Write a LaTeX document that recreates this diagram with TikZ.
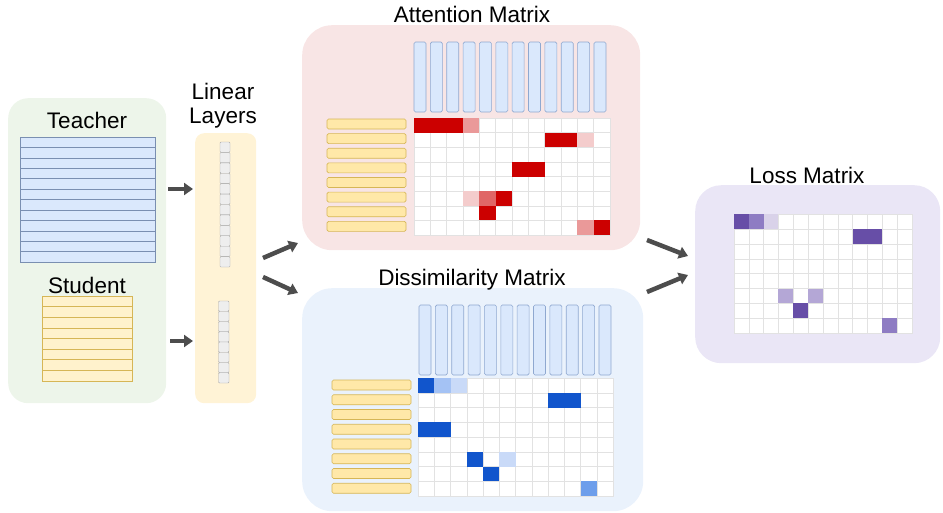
\documentclass[tikz,border=0pt]{standalone}
\usepackage{fontspec}
\setmainfont{Liberation Sans}
\usetikzlibrary{positioning,arrows.meta}

\definecolor{greenbg}{HTML}{EDF5EA}
\definecolor{linbg}{HTML}{FFF3D6}
\definecolor{pinkbg}{HTML}{F8E5E5}
\definecolor{bluebg}{HTML}{EAF2FC}
\definecolor{lavbg}{HTML}{EAE6F6}
\definecolor{tfill}{HTML}{DAE8FC}
\definecolor{tdraw}{HTML}{8FA8D0}
\definecolor{sfill}{HTML}{FFF2CC}
\definecolor{smfill}{HTML}{FFE8A8}
\definecolor{sdraw}{HTML}{D6B656}
\definecolor{lincell}{HTML}{EEEEEE}
\definecolor{lindraw}{HTML}{AAAAAA}
\definecolor{gridgrey}{HTML}{E2E2E2}
\definecolor{arrowgrey}{HTML}{4D4D4D}
\definecolor{redA}{HTML}{CC0000}
\definecolor{redB}{HTML}{E06666}
\definecolor{redC}{HTML}{EA9999}
\definecolor{redD}{HTML}{F4CCCC}
\definecolor{blueA}{HTML}{1155CC}
\definecolor{blueB}{HTML}{6D9EEB}
\definecolor{blueC}{HTML}{A4C2F4}
\definecolor{blueD}{HTML}{C9DAF8}
\definecolor{purA}{HTML}{674EA7}
\definecolor{purB}{HTML}{8E7CC3}
\definecolor{purC}{HTML}{B4A7D6}
\definecolor{purD}{HTML}{D9D2E9}

\begin{document}
\begin{tikzpicture}[x=1pt, y=-1pt,
    panel/.style={draw=none, inner sep=0pt, anchor=north west},
    title/.style={font=\fontsize{22.5}{24}\selectfont, inner sep=0pt},
    tvec/.style={draw=tdraw, fill=tfill, line width=0.6pt, rounded corners=1.5pt},
    svec/.style={draw=sdraw, fill=smfill, line width=0.6pt, rounded corners=1.5pt},
    trow/.style={draw=tdraw!85!black, fill=tfill, line width=0.5pt},
    srow/.style={draw=sdraw, fill=sfill, line width=0.5pt},
    lcell/.style={draw=lindraw, fill=lincell, line width=0.4pt, rounded corners=1pt},
    cell/.style={draw=gridgrey, line width=0.4pt},
    flow/.style={-{Triangle[length=9pt, width=12pt]}, line width=4.5pt, draw=arrowgrey}]

  \useasboundingbox (0,0) rectangle (943,512);

  % panels
  \node[panel, fill=greenbg, rounded corners=20pt, minimum width=158pt, minimum height=305pt] (models) at (8,98) {};
  \node[panel, fill=linbg, rounded corners=9pt, minimum width=61pt, minimum height=270pt] (linear) at (195,133) {};
  \node[panel, fill=pinkbg, rounded corners=30pt, minimum width=338pt, minimum height=225pt] (attn) at (302,25) {};
  \node[panel, fill=bluebg, rounded corners=30pt, minimum width=341pt, minimum height=223pt] (dissim) at (302,288) {};
  \node[panel, fill=lavbg, rounded corners=26pt, minimum width=245pt, minimum height=178pt] (loss) at (695,185) {};

  % titles
  \node[title, anchor=base] (teacher) at (87,128) {Teacher};
  \node[title, anchor=base] (student) at (87,293) {Student};
  \node[title, align=center] (lintitle) at (223,106) {Linear\\Layers};
  \node[title, anchor=base] (attntitle) at (472,22) {Attention Matrix};
  \node[title, anchor=base] (dissimtitle) at (472,285) {Dissimilarity Matrix};
  \node[title, anchor=base] (losstitle) at (807,183) {Loss Matrix};

  % teacher and student features
  \foreach \i in {0,...,11}
    \draw[trow] (20,137+\i*10.42) rectangle ++(135,10.42);
  \foreach \i in {0,...,7}
    \draw[srow] (42,296+\i*10.62) rectangle ++(90,10.62);

  % linear layers
  \foreach \i in {0,...,11}
    \draw[lcell] (220,142+\i*10.42) rectangle ++(10,10.42);
  \foreach \i in {0,...,7}
    \draw[lcell] (218.5,301+\i*10.25) rectangle ++(10.5,10.25);

  % attention matrix
  \foreach \i in {0,...,11}
    \draw[tvec] (414+\i*16.36,42) rectangle ++(12,70);
  \foreach \r in {0,...,7} {
    \draw[svec] (327,119+\r*14.63) rectangle ++(79,10);
    \foreach \c in {0,...,11}
      \draw[cell, fill=white] (414+\c*16.33,118+\r*14.63) rectangle ++(16.33,14.63);
  }
  \foreach \r/\c/\col in {0/0/redA,0/1/redA,0/2/redA,0/3/redC,1/8/redA,1/9/redA,1/10/redD,
      3/6/redA,3/7/redA,5/3/redD,5/4/redB,5/5/redA,6/4/redA,7/10/redC,7/11/redA}
    \fill[\col] (414+\c*16.33,118+\r*14.63) rectangle ++(16.33,14.63);

  % dissimilarity matrix
  \foreach \i in {0,...,11}
    \draw[tvec] (419+\i*16.36,305) rectangle ++(12,70);
  \foreach \r in {0,...,7} {
    \draw[svec] (332,380+\r*14.75) rectangle ++(79,10);
    \foreach \c in {0,...,11}
      \draw[cell, fill=white] (418+\c*16.25,378+\r*14.75) rectangle ++(16.25,14.75);
  }
  \foreach \r/\c/\col in {0/0/blueA,0/1/blueC,0/2/blueD,1/8/blueA,1/9/blueA,3/0/blueA,3/1/blueA,
      5/3/blueA,5/5/blueD,6/4/blueA,7/10/blueB}
    \fill[\col] (418+\c*16.25,378+\r*14.75) rectangle ++(16.25,14.75);

  % loss matrix
  \foreach \r in {0,...,7}
    \foreach \c in {0,...,11}
      \draw[cell, fill=white] (734+\c*14.83,214+\r*14.9) rectangle ++(14.83,14.9);
  \foreach \r/\c/\col in {0/0/purA,0/1/purB,0/2/purD,1/8/purA,1/9/purA,
      5/3/purC,5/5/purC,6/4/purA,7/10/purB}
    \fill[\col] (734+\c*14.83,214+\r*14.9) rectangle ++(14.83,14.9);

  % arrows
  \coordinate (tout) at (168,189);
  \coordinate (sout) at (170,341);
  \coordinate (tin) at (193,189);
  \coordinate (sin) at (193,341);
  \coordinate (linout) at (263,258);
  \coordinate (linoutb) at (263,277);
  \coordinate (attnin) at (298,243);
  \coordinate (dissimin) at (298,293);
  \coordinate (attnout) at (647,240);
  \coordinate (dissimout) at (647,292);
  \coordinate (lossin) at (688,256);
  \coordinate (lossinb) at (688,275);

  \draw[flow] (tout) -- (tin);
  \draw[flow] (sout) -- (sin);
  \draw[flow] (linout) -- (attnin);
  \draw[flow] (linoutb) -- (dissimin);
  \draw[flow] (attnout) -- (lossin);
  \draw[flow] (dissimout) -- (lossinb);
\end{tikzpicture}
\end{document}
